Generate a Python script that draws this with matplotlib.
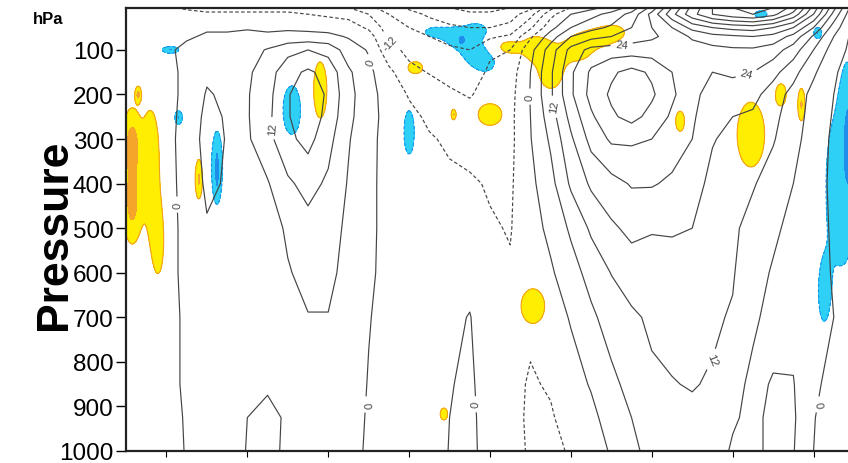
import numpy as np
import matplotlib.pyplot as plt

plt.rcParams['font.family'] = ['Liberation Sans', 'DejaVu Sans']
plt.rcParams['contour.negative_linestyle'] = (0, (3, 2))

# zonal-mean wind, one profile per latitude (rows) on these pressure levels
lats = np.arange(-90, 91, 5)
levels_hpa = [5, 20, 50, 70, 100, 150, 200, 250, 300, 400, 500, 600, 700, 850, 925, 1000]
u_profiles = [
    [-5, -3, -2, -2, -2, -2, -2, -2, -2, -2, -2, -2, -2, -3, -3, -3],            # 90S
    [-5, -3, -2, -2, -2, -2, -2, -2, -2, -2, -2, -2, -2, -2, -3, -3],            # 85S
    [-5, -4, -2.5, -2, -1.5, -2, -2, -2, -2, -2, -2, -2, -2, -2, -2, -2],        # 80S
    [-7, -4, -2, -1, 2, 1.5, 1.5, 2, 2.5, 2, 1.5, 1.5, 1, 1, 0.5, 0.3],          # 75S
    [-8, -5, -1, 1, 3, 5, 6.5, 7.5, 8, 7, 5.5, 4, 3, 2.5, 2, 1.5],               # 70S
    [-8, -5, -1, 1, 2.5, 4, 5, 5.5, 5.7, 5.5, 5, 4, 3.5, 3.5, 3, 2],             # 65S
    [-8, -5, -0.5, 1.5, 3.5, 5, 5.5, 5.5, 5.2, 5, 4.8, 4.8, 5, 5.5, 6, 6.4],     # 60S
    [-8, -5, -1, 1, 6.5, 9, 10, 10.5, 10, 5.5, 3.5, 3, 3.5, 5.5, 7, 7.5],        # 55S
    [-8, -5, -1, 2, 10, 16, 17.5, 17.5, 16.5, 11, 6.8, 5.6, 5.5, 5.5, 5.5, 5],   # 50S
    [-9, -6, -1.5, 2, 12, 19, 22, 22, 20, 14, 10, 7.5, 5.8, 5, 4.5, 4],          # 45S
    [-10, -7, -2, 1.5, 10, 16, 17, 16, 14, 11, 9, 7.5, 5.8, 4.5, 4, 3.5],        # 40S
    [-12, -8, -3, -0.5, 3, 7, 8, 7.5, 6.5, 5.5, 4.5, 4, 3.5, 3, 2.5, 2],         # 35S
    [-16, -12, -7, -3, -0.5, 1.5, 2, 2, 1.5, 1, 1, 0.8, 0.3, -0.3, -0.6, -0.8],  # 30S
    [-22, -18, -15, -13.5, -10, -4.5, -2.5, -2, -2, -1.5, -1.5, -1.5, -2, -2.5, -3, -3],  # 25S
    [-25, -22, -18, -16, -13.5, -10.5, -6.5, -4.5, -3.5, -2.5, -2, -2, -2.5, -3.5, -4, -4],  # 20S
    [-27, -25, -21, -18, -15, -12.3, -9, -7, -5.5, -4, -3, -2.5, -2.5, -3, -3, -2.5],  # 15S
    [-30, -27, -23, -20, -17, -14, -11, -8, -6.8, -5, -4, -3, -1, -0.3, 0, 0.2],   # 10S
    [-32, -29, -24, -21, -18, -15, -12.5, -9.5, -8, -5.3, -4, -1.5, 0.2, 1, 1.5, 1.5],  # 5S
    [-32, -29, -24, -19, -13, -11, -9.5, -8.5, -7.5, -6.5, -5.5, -4, -3, -3, -3, -2.5],  # EQ
    [-30, -27, -22, -17, -12, -9, -8, -7.5, -7.5, -6.8, -6.3, -5.5, -4.5, -4.5, -4, -3],  # 5N
    [-26, -20, -13, -7, -2, 0, 0.3, 0, -0.3, -1.5, -2.5, -3.5, -5, -6.5, -7, -7],     # 10N
    [-14, -8, -2, 3, 9, 11, 11, 9, 7, 4, 1.5, -0.8, -3, -5.5, -6.5, -7],         # 15N
    [-6, 0, 6, 12, 20, 23, 23, 20, 17, 13, 7, 3.5, 0.5, -2.5, -4, -5.6],         # 20N
    [-2, 4, 10, 16, 26, 31, 32, 29, 26, 19, 13, 8.2, 4.8, 0.5, -1.5, -3],        # 25N
    [2, 8, 13, 18, 27, 35, 37, 35, 31, 22, 17, 12.2, 8.7, 4.5, 2.5, 0.6],        # 30N
    [8, 14, 18, 21, 27, 38, 41, 38, 31, 24.5, 19.5, 15, 11, 8, 6, 4.4],          # 35N
    [20, 26, 24, 23, 27, 35, 37, 34, 30, 24.5, 18.5, 15, 13, 11, 10, 8.2],       # 40N
    [36, 40, 30, 26, 25, 30, 31, 29, 27, 23, 18.5, 16, 13.5, 11.8, 11, 10],      # 45N
    [50, 52, 38, 31, 27, 26, 26, 25, 24, 21, 18, 15, 13.5, 12.3, 11, 10],        # 50N
    [60, 60, 42, 34, 28, 24, 21, 19.5, 18.5, 16, 14, 13, 12.8, 11.5, 9.5, 8],    # 55N
    [66, 64, 44, 35, 29, 25, 21, 18, 16, 14, 13, 12.5, 11.5, 7.5, 6.5, 5.5],     # 60N
    [68, 66, 45, 36, 29, 24, 20, 17, 15, 12.5, 10, 8, 6.8, 5, 5, 5],             # 65N
    [66, 62, 42, 34, 27, 20, 15, 13.5, 12.5, 9.5, 7, 5.5, 4.5, 6.3, 7, 7],       # 70N
    [58, 52, 36, 28, 21, 14, 10, 9, 8, 6, 4.5, 4, 4, 6.3, 6.8, 6.3],             # 75N
    [40, 36, 24, 17, 12, 7, 4, 3.5, 3, 2, 1.5, 1, 0.5, 0.3, 0.1, 0],             # 80N
    [20, 16, 9, 6, 3, 0.5, 0, -0.5, -1, -1, -0.5, -0.2, 0, -0.5, -1, -1],        # 85N
    [2, 0, -1, -2, -2, -2, -2, -2, -2, -2, -2, -2, -2, -2, -2, -2],              # 90N
]

# significant differences: (lat, hPa, lat radius, hPa radius, strength)
sig_cells = [
    # positive
    (-88.5, 310, 1.5, 50, 3.5), (-88.5, 440, 1.5, 60, 3.5), (-84, 300, 1.5, 60, 1.5),
    (-83.5, 430, 1.8, 90, 1.5), (-82, 540, 1.2, 60, 1.4),
    (-87, 200, 0.5, 12, 3.0), (-72, 390, 0.6, 30, 3.0),
    (-42, 190, 1.7, 65, 1.6), (-18.5, 140, 2.0, 15, 1.5), (-9, 245, 0.4, 8, 3.0),
    (0, 245, 3.0, 25, 1.6),
    (4, 95, 2.5, 14, 1.5), (11, 95, 3.0, 25, 1.45), (15, 150, 3.0, 40, 1.5),
    (22, 95, 3.5, 30, 1.45), (28, 70, 3.0, 18, 1.45), (31, 60, 2.0, 12, 1.3),
    (10.6, 675, 3.0, 40, 1.6), (-11.4, 917, 1.0, 15, 1.5),
    (47, 260, 1.2, 25, 1.5), (64.5, 290, 3.5, 75, 1.6), (72, 200, 1.3, 25, 1.5),
    (77, 223, 0.6, 25, 3.0),
    # negative
    (-79, 100, 1.3, 5, -3.2), (-77, 252, 0.6, 10, -3.2), (-67.5, 360, 1.3, 70, -1.6),
    (-67.5, 370, 0.5, 35, -3.0), (-49, 235, 2.0, 50, -1.8), (-20, 285, 1.3, 50, -1.6),
    (-14, 60, 2.5, 12, -1.3), (-9, 70, 2.5, 20, -1.3), (-5, 90, 2.5, 30, -1.3),
    (-1, 125, 3.0, 28, -1.3), (-3, 55, 2.0, 12, -1.3), (-7, 78, 0.6, 8, -3.0),
    (86.5, 410, 3.8, 190, -1.5), (82.5, 650, 1.3, 60, -1.2), (88.5, 300, 1.2, 100, -2.5),
    (67, 20, 1.0, 5, -3.0), (81, 62, 0.6, 8, -3.0),
]

# labelled contour values and where their labels sit (lat, hPa)
label_levels = [-12, 0, 12, 24]
label_spots = [
    (-77.2, 447), (-30.4, 129), (9.2, 205), (-31.7, 895), (-3.2, 895), (80.7, 895),
    (-52.7, 275), (15.6, 228), (54.7, 794),
    (32.7, 100), (63.6, 160),
    (-24.8, 84),
]

u = np.array(u_profiles, dtype=float).T
p = np.array(levels_hpa, dtype=float)

fig = plt.figure(figsize=(8.48, 4.64), dpi=100)
ax = fig.add_axes([126 / 848, 12 / 464, 728 / 848, 443 / 464])

# shading of the significance field
glat = np.linspace(-90, 90, 721)
gp = np.linspace(5, 1000, 800)
LA, PP = np.meshgrid(glat, gp)
sig = np.zeros_like(LA)
for la, pc, sx, sp, amp in sig_cells:
    sig += amp * np.exp(-0.5 * ((LA - la) / sx) ** 2 - 0.5 * ((PP - pc) / sp) ** 2)
ax.contourf(LA, PP, sig, levels=[-99, -2.8, -1, 1, 2.8, 99],
            colors=['#1E8EEA', '#2FD0F5', 'none', '#FFEE00', '#F5A52A'])
ax.contour(LA, PP, sig, levels=[-1], colors='#1E8EEA', linewidths=0.8)
ax.contour(LA, PP, sig, levels=[1], colors='#F0A020', linewidths=0.8)

all_levels = np.arange(-60, 73, 6)
plain_levels = [v for v in all_levels if v not in label_levels]
line_kw = dict(colors='#444444', linewidths=0.85)
ax.contour(lats, p, u, levels=plain_levels, **line_kw)
cs = ax.contour(lats, p, u, levels=label_levels, **line_kw)
ax.clabel(cs, manual=label_spots, inline=True, fontsize=8, fmt=lambda v: f'{v:.0f}')

ax.set_xlim(-90, 90)
ax.set_ylim(1000, 6)
ax.set_yticks([100, 200, 300, 400, 500, 600, 700, 800, 900, 1000])
ax.set_xticks(np.arange(-80, 81, 20))
ax.set_xticklabels([])
ax.tick_params(axis='y', labelsize=17.5, length=7, width=1, pad=2)
ax.tick_params(axis='x', length=4, width=0.8)
for side in ['left', 'bottom', 'top']:
    ax.spines[side].set_linewidth(1.6)
    ax.spines[side].set_color('#222222')
ax.set_ylabel('Pressure', fontsize=32, fontweight='bold')
ax.yaxis.set_label_coords(-0.070, 0.49)
fig.text(33 / 848, 1 - 20 / 464, 'hPa', fontsize=12, fontweight='bold', va='center')

fig.savefig('out.png', dpi=100)
